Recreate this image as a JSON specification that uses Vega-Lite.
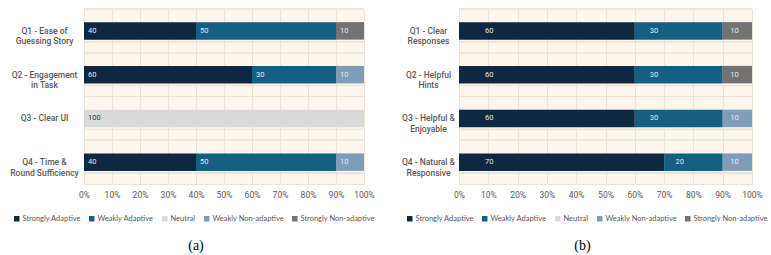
{
  "$schema": "https://vega.github.io/schema/vega-lite/v6.json",
  "background": "white",
  "padding": {"left": 9, "top": 8, "right": 4, "bottom": 4},
  "data": {"values": [
    {"panel": "a", "question": "Q1 - Ease of Guessing Story", "response": "Strongly Adaptive", "value": 40},
    {"panel": "a", "question": "Q1 - Ease of Guessing Story", "response": "Weakly Adaptive", "value": 50},
    {"panel": "a", "question": "Q1 - Ease of Guessing Story", "response": "Strongly Non-adaptive", "value": 10},
    {"panel": "a", "question": "Q2 - Engagement in Task", "response": "Strongly Adaptive", "value": 60},
    {"panel": "a", "question": "Q2 - Engagement in Task", "response": "Weakly Adaptive", "value": 30},
    {"panel": "a", "question": "Q2 - Engagement in Task", "response": "Weakly Non-adaptive", "value": 10},
    {"panel": "a", "question": "Q3 - Clear UI", "response": "Neutral", "value": 100},
    {"panel": "a", "question": "Q4 - Time & Round Sufficiency", "response": "Strongly Adaptive", "value": 40},
    {"panel": "a", "question": "Q4 - Time & Round Sufficiency", "response": "Weakly Adaptive", "value": 50},
    {"panel": "a", "question": "Q4 - Time & Round Sufficiency", "response": "Weakly Non-adaptive", "value": 10},
    {"panel": "b", "question": "Q1 - Clear Responses", "response": "Strongly Adaptive", "value": 60},
    {"panel": "b", "question": "Q1 - Clear Responses", "response": "Weakly Adaptive", "value": 30},
    {"panel": "b", "question": "Q1 - Clear Responses", "response": "Strongly Non-adaptive", "value": 10},
    {"panel": "b", "question": "Q2 - Helpful Hints", "response": "Strongly Adaptive", "value": 60},
    {"panel": "b", "question": "Q2 - Helpful Hints", "response": "Weakly Adaptive", "value": 30},
    {"panel": "b", "question": "Q2 - Helpful Hints", "response": "Strongly Non-adaptive", "value": 10},
    {"panel": "b", "question": "Q3 - Helpful & Enjoyable", "response": "Strongly Adaptive", "value": 60},
    {"panel": "b", "question": "Q3 - Helpful & Enjoyable", "response": "Weakly Adaptive", "value": 30},
    {"panel": "b", "question": "Q3 - Helpful & Enjoyable", "response": "Weakly Non-adaptive", "value": 10},
    {"panel": "b", "question": "Q4 - Natural & Responsive", "response": "Strongly Adaptive", "value": 70},
    {"panel": "b", "question": "Q4 - Natural & Responsive", "response": "Weakly Adaptive", "value": 20},
    {"panel": "b", "question": "Q4 - Natural & Responsive", "response": "Weakly Non-adaptive", "value": 10}
  ]},
  "spacing": 26,
  "hconcat": [
    {
      "width": 280,
      "height": 175,
      "title": {"text": "(a)", "orient": "bottom", "dx": -28},
      "transform": [
        {"filter": "datum.panel == 'a'"},
        {"calculate": "indexof(['Strongly Adaptive','Weakly Adaptive','Neutral','Weakly Non-adaptive','Strongly Non-adaptive'], datum.response)", "as": "ord"},
        {"stack": "value", "groupby": ["question"], "sort": [{"field": "ord"}], "as": ["v0", "v1"]},
        {"calculate": "datum.v0", "as": "lx"}
      ],
      "layer": [
        {
          "mark": {"type": "rule", "color": "#ebe3d7", "strokeWidth": 1},
          "encoding": {"y": {"field": "question", "type": "nominal", "bandPosition": 0, "sort": ["Q1 - Ease of Guessing Story", "Q2 - Engagement in Task", "Q3 - Clear UI", "Q4 - Time & Round Sufficiency"]}}
        },
        {
          "mark": {"type": "rule", "color": "#ebe3d7", "strokeWidth": 1},
          "encoding": {"y": {"field": "question", "type": "nominal", "bandPosition": 0.75, "sort": ["Q1 - Ease of Guessing Story", "Q2 - Engagement in Task", "Q3 - Clear UI", "Q4 - Time & Round Sufficiency"]}}
        },
        {
          "mark": {"type": "bar", "height": {"band": 0.4}},
          "encoding": {
            "y": {
              "field": "question", "type": "nominal",
              "sort": ["Q1 - Ease of Guessing Story", "Q2 - Engagement in Task", "Q3 - Clear UI", "Q4 - Time & Round Sufficiency"],
              "scale": {"paddingInner": 0, "paddingOuter": 0},
              "axis": {
                "title": null, "grid": false, "domain": false, "ticks": false,
                "labelAlign": "center", "labelPadding": 40,
                "labelExpr": "datum.value == 'Q1 - Ease of Guessing Story' ? ['Q1 - Ease of', 'Guessing Story'] : datum.value == 'Q2 - Engagement in Task' ? ['Q2 - Engagement', 'in Task'] : datum.value == 'Q4 - Time & Round Sufficiency' ? ['Q4 - Time &', 'Round Sufficiency'] : datum.label"
              }
            },
            "x": {
              "field": "v0", "type": "quantitative", "scale": {"domain": [0, 100]},
              "axis": {"title": null, "values": [0,10,20,30,40,50,60,70,80,90,100], "labelExpr": "datum.value + '%'", "grid": true, "labelOverlap": false, "labelFlush": false}
            },
            "x2": {"field": "v1"},
            "color": {
              "field": "response", "type": "nominal",
              "scale": {"domain": ["Strongly Adaptive", "Weakly Adaptive", "Neutral", "Weakly Non-adaptive", "Strongly Non-adaptive"], "range": ["#0e2841", "#155f82", "#d9d9d9", "#7f9db8", "#737373"]},
              "legend": {"orient": "none", "legendX": -71, "legendY": 206}
            }
          }
        },
        {
          "mark": {"type": "text", "align": "left", "baseline": "middle", "dx": 4, "fontSize": 7.5, "font": "Roboto"},
          "encoding": {
            "y": {"field": "question", "type": "nominal", "sort": ["Q1 - Ease of Guessing Story", "Q2 - Engagement in Task", "Q3 - Clear UI", "Q4 - Time & Round Sufficiency"]},
            "x": {"field": "lx", "type": "quantitative", "axis": {"title": null, "values": [0,10,20,30,40,50,60,70,80,90,100], "labelExpr": "datum.value + '%'", "grid": true, "labelOverlap": false, "labelFlush": false}},
            "text": {"field": "value", "type": "quantitative"},
            "color": {"condition": {"test": "datum.response == 'Neutral'", "value": "#333333"}, "value": "#e4e8ee"}
          }
        }
      ]
    },
    {
      "width": 293,
      "height": 175,
      "title": {"text": "(b)", "orient": "bottom", "dx": -23},
      "transform": [
        {"filter": "datum.panel == 'b'"},
        {"calculate": "indexof(['Strongly Adaptive','Weakly Adaptive','Neutral','Weakly Non-adaptive','Strongly Non-adaptive'], datum.response)", "as": "ord"},
        {"stack": "value", "groupby": ["question"], "sort": [{"field": "ord"}], "as": ["v0", "v1"]},
        {"calculate": "datum.v0 + min(datum.value * 0.125, 7.5)", "as": "lx"}
      ],
      "layer": [
        {
          "mark": {"type": "rule", "color": "#ebe3d7", "strokeWidth": 1},
          "encoding": {"y": {"field": "question", "type": "nominal", "bandPosition": 0, "sort": ["Q1 - Clear Responses", "Q2 - Helpful Hints", "Q3 - Helpful & Enjoyable", "Q4 - Natural & Responsive"]}}
        },
        {
          "mark": {"type": "rule", "color": "#ebe3d7", "strokeWidth": 1},
          "encoding": {"y": {"field": "question", "type": "nominal", "bandPosition": 0.75, "sort": ["Q1 - Clear Responses", "Q2 - Helpful Hints", "Q3 - Helpful & Enjoyable", "Q4 - Natural & Responsive"]}}
        },
        {
          "mark": {"type": "bar", "height": {"band": 0.4}},
          "encoding": {
            "y": {
              "field": "question", "type": "nominal",
              "sort": ["Q1 - Clear Responses", "Q2 - Helpful Hints", "Q3 - Helpful & Enjoyable", "Q4 - Natural & Responsive"],
              "scale": {"paddingInner": 0, "paddingOuter": 0},
              "axis": {
                "title": null, "grid": false, "domain": false, "ticks": false,
                "labelAlign": "center", "labelPadding": 31,
                "labelExpr": "datum.value == 'Q1 - Clear Responses' ? ['Q1 - Clear', 'Responses'] : datum.value == 'Q2 - Helpful Hints' ? ['Q2 - Helpful', 'Hints'] : datum.value == 'Q3 - Helpful & Enjoyable' ? ['Q3 - Helpful &', 'Enjoyable'] : datum.value == 'Q4 - Natural & Responsive' ? ['Q4 - Natural &', 'Responsive'] : datum.label"
              }
            },
            "x": {
              "field": "v0", "type": "quantitative", "scale": {"domain": [0, 100]},
              "axis": {"title": null, "values": [0,10,20,30,40,50,60,70,80,90,100], "labelExpr": "datum.value + '%'", "grid": true, "labelOverlap": false, "labelFlush": false}
            },
            "x2": {"field": "v1"},
            "color": {
              "field": "response", "type": "nominal",
              "scale": {"domain": ["Strongly Adaptive", "Weakly Adaptive", "Neutral", "Weakly Non-adaptive", "Strongly Non-adaptive"], "range": ["#0e2841", "#155f82", "#d9d9d9", "#7f9db8", "#737373"]},
              "legend": {"orient": "none", "legendX": -53, "legendY": 206}
            }
          }
        },
        {
          "mark": {"type": "text", "align": "left", "baseline": "middle", "dx": 4, "fontSize": 7.5, "font": "Roboto"},
          "encoding": {
            "y": {"field": "question", "type": "nominal", "sort": ["Q1 - Clear Responses", "Q2 - Helpful Hints", "Q3 - Helpful & Enjoyable", "Q4 - Natural & Responsive"]},
            "x": {"field": "lx", "type": "quantitative", "axis": {"title": null, "values": [0,10,20,30,40,50,60,70,80,90,100], "labelExpr": "datum.value + '%'", "grid": true, "labelOverlap": false, "labelFlush": false}},
            "text": {"field": "value", "type": "quantitative"},
            "color": {"condition": {"test": "datum.response == 'Neutral'", "value": "#333333"}, "value": "#e4e8ee"}
          }
        }
      ]
    }
  ],
  "resolve": {"legend": {"color": "independent"}, "scale": {"color": "independent", "x": "independent", "y": "independent"}},
  "config": {
    "view": {"fill": "#fdf6ec", "stroke": null},
    "axisX": {"gridColor": "#ebe3d7", "domainColor": "#ebe3d7", "ticks": false, "labelPadding": 6, "labelFontSize": 8.5, "labelFont": "Roboto", "labelColor": "#595959"},
    "axisY": {"labelFontSize": 8.5, "labelFont": "Roboto", "labelFontWeight": 500, "labelColor": "#595959", "labelLineHeight": 10.5},
    "legend": {"direction": "horizontal", "title": null, "symbolType": "square", "symbolSize": 30, "symbolStrokeWidth": 0, "labelFontSize": 7.5, "labelFont": "Lato", "labelColor": "#595959", "columnPadding": 7, "labelOffset": 2, "gridAlign": "none", "labelLimit": 200},
    "title": {"font": "Liberation Serif", "fontSize": 14, "fontWeight": "normal", "color": "#000000", "offset": 16}
  }
}
